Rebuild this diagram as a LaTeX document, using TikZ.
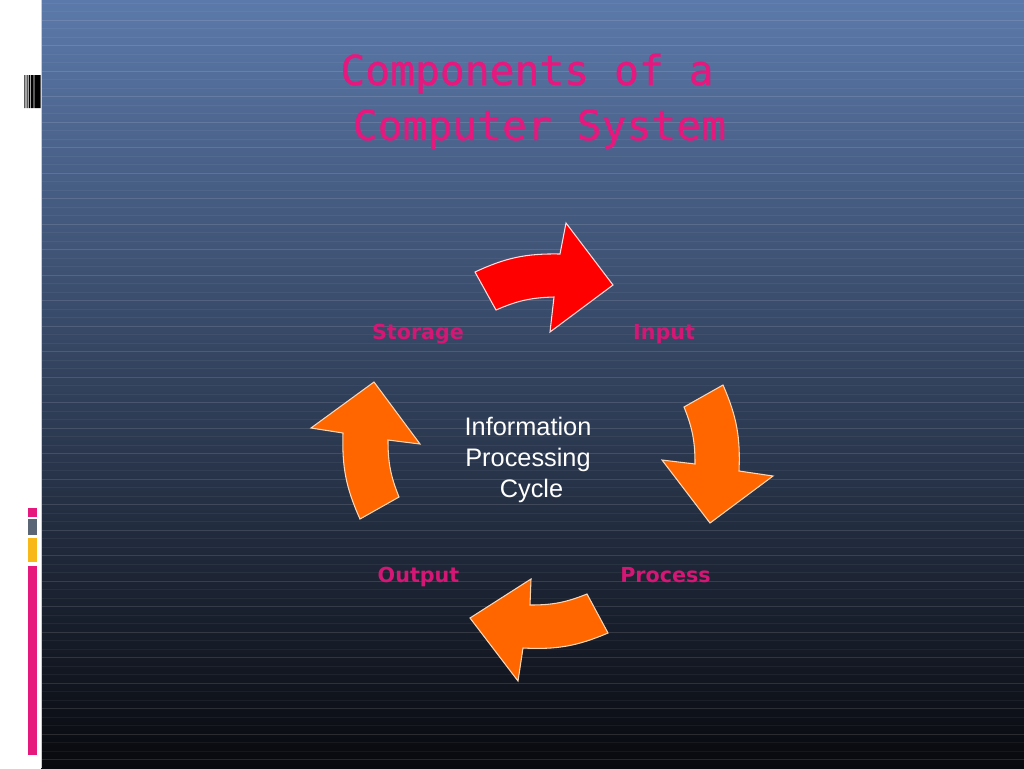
\documentclass[tikz,border=0pt]{standalone}
\usepackage{fontspec}
\setmainfont{Liberation Sans}
\newfontfamily\titlefont{DejaVu Sans Mono}[FakeBold=0.7]
\newfontfamily\stagefont{DejaVu Sans}
\definecolor{slidepink}{RGB}{230,24,126}
\definecolor{arroworange}{RGB}{255,102,0}
\definecolor{edgeorange}{RGB}{250,214,180}
\definecolor{barcgray}{RGB}{90,102,118}
\definecolor{barcyellow}{RGB}{247,184,24}

\begin{document}
\begin{tikzpicture}[x=0.75pt,y=-0.75pt,
    heading/.style={font=\titlefont\fontsize{31}{37}\selectfont,text=slidepink,anchor=base,inner sep=0},
    stage/.style={font=\stagefont\bfseries\fontsize{15.5}{18}\selectfont,text=slidepink!92!black,anchor=base,inner sep=0},
    hub/.style={font=\fontsize{19}{23.25}\selectfont,text=white,align=center,inner sep=0},
    cyclearrow/.style={fill=arroworange,draw=edgeorange,line width=0.8pt},
    firstarrow/.style={fill=red,draw=red!15,line width=0.8pt}]
  \useasboundingbox (0,0) rectangle (1024,768);
  % slide background
  \fill[white] (0,0) rectangle (41,768);
  \shade[top color={rgb,255:red,91;green,121;blue,170},
         middle color={rgb,255:red,45;green,60;blue,90},
         bottom color={rgb,255:red,8;green,9;blue,14}] (41,0) rectangle (1024,768);
  \foreach \y [count=\k] in {3,11.5,...,766} {
    \pgfmathsetmacro\op{mod(\k,3)==0 ? 0.12 : 0.05}
    \draw[white,opacity=\op,line width=0.5pt] (41,\y) -- (1024,\y);
  }
  \draw[gray!40] (41,0) -- (41,768);
  % left strip marks
  \fill[black] (24.4,75) rectangle (25.3,108) (26.7,75) rectangle (27.6,108)
               (28.7,75) rectangle (29.8,108) (30.6,75) rectangle (33.6,108)
               (34.4,75) rectangle (40.5,108);
  \fill[slidepink] (28,508) rectangle (37,517);
  \fill[barcgray] (28,519) rectangle (37,535);
  \fill[barcyellow] (28,538) rectangle (37,562);
  \fill[slidepink] (28,566) rectangle (37,755);

  % title
  \node[heading] (title) at (527,85) {Components of a};
  \node[heading] (title2) at (527,140) {\mbox{}\ Computer System};

  % cycle arrows
  \draw[firstarrow] (475,272) to[bend left=13] (560,254) -- (566,223) -- (613,285)
    -- (550,332) -- (554,297) to[bend right=11] (496,310) -- cycle;
  \draw[cyclearrow] (723,385) to[bend left=13] (739,471) -- (773,476) -- (710,523)
    -- (662,460) -- (695,464) to[bend right=11] (684,407) -- cycle;
  \draw[cyclearrow] (608,633) to[bend left=13] (523,648) -- (518,681) -- (470,618)
    -- (531,579) -- (530,605) to[bend right=11] (587,594) -- cycle;
  \draw[cyclearrow] (360,519) to[bend left=13] (343,433) -- (311,428) -- (374,382)
    -- (420,444) -- (388,440) to[bend right=11] (399,497) -- cycle;

  % stages
  \node[stage] (storage) at (418,339) {Storage};
  \node[stage] (input) at (664,339) {Input};
  \node[stage] (output) at (418.5,582) {Output};
  \node[stage] (process) at (665.5,582) {Process};

  \node[hub] (cycle) at (528,460) {Information\\Processing\\\mbox{}\ Cycle};
\end{tikzpicture}
\end{document}
